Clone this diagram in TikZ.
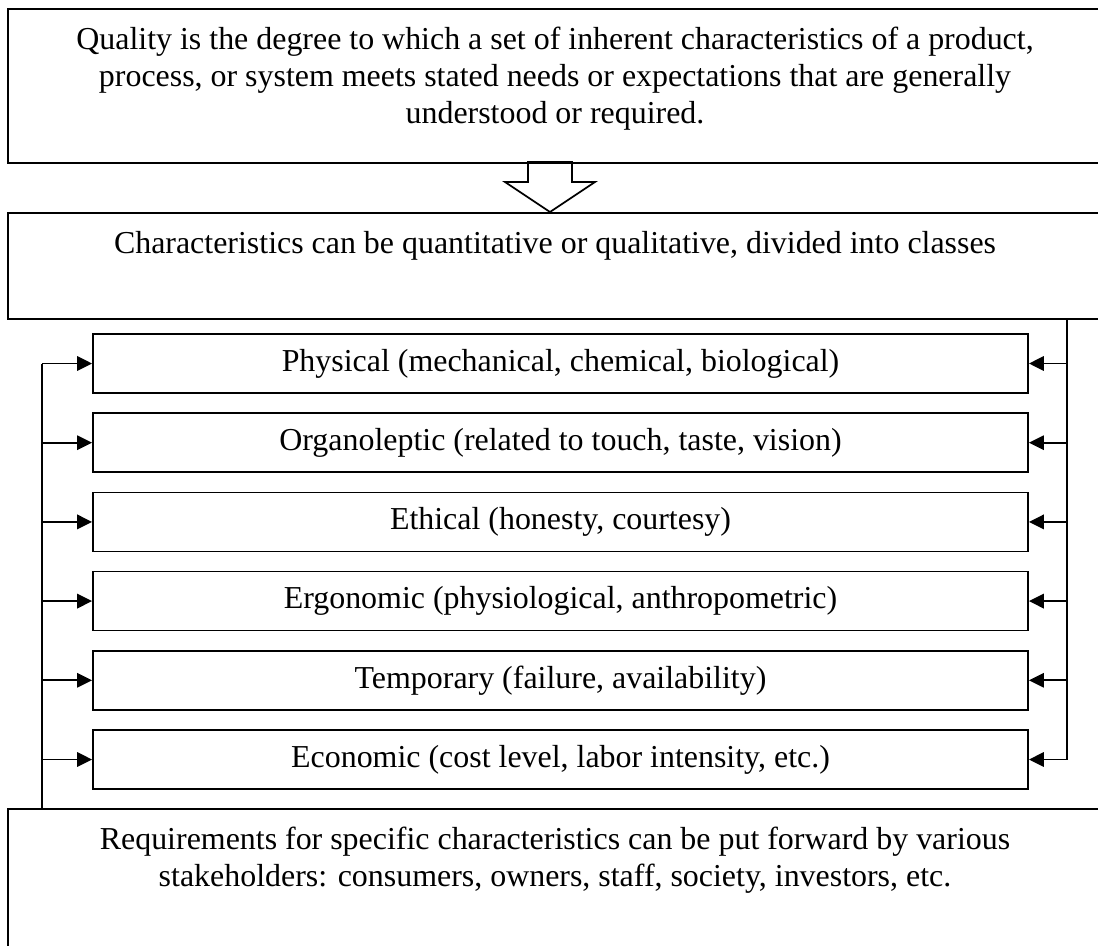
\documentclass[tikz,border=0pt]{standalone}
\usepackage{fontspec}
\setmainfont{Liberation Serif}
\usetikzlibrary{arrows.meta}

\newcommand{\boxtext}[2]{\parbox[t][#1][t]{27.35cm}{\centering\rule{0pt}{1.02cm}#2}}

\begin{document}
\begin{tikzpicture}[x=0.025cm,y=-0.025cm,
		font=\fontsize{22.7}{26.3}\selectfont,
		bigbox/.style={draw, line width=1.2pt, inner sep=0pt, anchor=north},
		classbox/.style={draw, line width=1.2pt, minimum width=23.375cm, minimum height=1.475cm, inner sep=0pt},
		link/.style={line width=1.2pt, -{Triangle[length=0.37cm,width=0.36cm]}}]
		\useasboundingbox (0,0) rectangle (1098,946);
		\clip (0,0) rectangle (1098,946);
		\node[bigbox] (quality) at (555,8) {\boxtext{3.85cm}{Quality is the degree to which a set of inherent characteristics of a product,\\ process, or system meets stated needs or expectations that are generally\\ understood or required.}};
		\node[bigbox] (classes) at (555,212) {\boxtext{2.65cm}{Characteristics can be quantitative or qualitative, divided into classes}};
		\node[bigbox] (req) at (555,808) {\boxtext{4.5cm}{Requirements for specific characteristics can be put forward by various\\ stakeholders: consumers, owners, staff, society, investors, etc.}};
		% hollow arrow between the two upper boxes
		\coordinate (tip) at (550,212);
		\draw[line width=1.2pt, line join=miter] (tip) -- ++(-45,-30) -- ++(23,0) -- ++(0,-20) -- ++(44,0) -- ++(0,20) -- ++(23,0) -- cycle;
		\foreach \i/\name/\txt in {0/phys/{Physical (mechanical, chemical, biological)},
			1/organ/{Organoleptic (related to touch, taste, vision)},
			2/ethic/{Ethical (honesty, courtesy)},
			3/ergo/{Ergonomic (physiological, anthropometric)},
			4/temp/{Temporary (failure, availability)},
			5/econ/{Economic (cost level, labor intensity, etc.)}}
		\node[classbox] (\name) at (560.5,363.5+79.2*\i) {\txt};
		\coordinate (lft) at (42,0);
		\coordinate (rgt) at (1067,0);
		\draw[line width=1.2pt] (lft |- req.north) -- (lft |- phys.west);
		\draw[line width=1.2pt] (rgt |- classes.south) -- (rgt |- econ.east);
		\foreach \name in {phys,organ,ethic,ergo,temp,econ}{
			\draw[link] (lft |- \name.west) -- (\name.west);
			\draw[link] (rgt |- \name.east) -- (\name.east);
		}
\end{tikzpicture}
\end{document}
